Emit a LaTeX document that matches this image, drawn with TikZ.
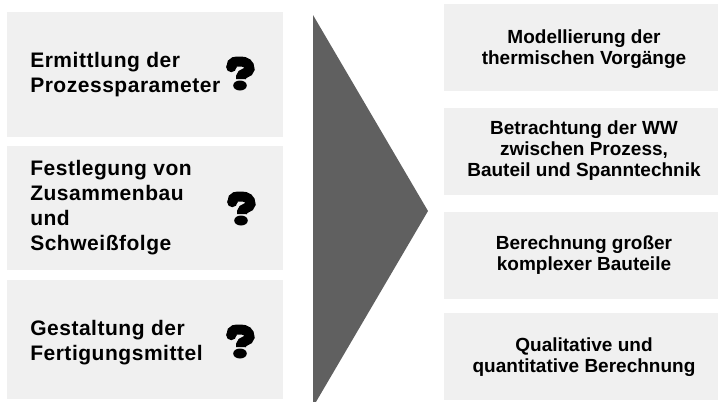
\documentclass[tikz,border=0pt]{standalone}
\usepackage{fontspec}
\setmainfont{Liberation Sans}
\newfontfamily\spacedsans[LetterSpace=2.5]{Liberation Sans}
\definecolor{panelgray}{HTML}{F0F0F0}
\definecolor{arrowgray}{HTML}{606060}
\begin{document}
\begin{tikzpicture}[x=0.75pt,y=-0.75pt,
  panel/.style={fill=panelgray, draw=none, inner sep=0pt, outer sep=0pt},
  leftpanel/.style={panel, minimum width=207pt},
  rightpanel/.style={panel, minimum width=205.5pt, minimum height=65.25pt},
  lefttext/.style={anchor=west, align=left, inner sep=0pt,
    font=\fontsize{15.75}{18.75}\spacedsans\bfseries},
  righttext/.style={align=center, inner sep=0pt,
    font=\fontsize{14.25}{15.75}\selectfont\bfseries},
  qmark/.pic={
    % heavy question mark: hook with round ball, then the dot
    \draw[line width=7.5pt, line cap=butt]
      (5.5,10) .. controls (5.5,4) and (10,4.5) .. (14.5,4.5)
      .. controls (20,4.5) and (23.5,7) .. (23.5,12)
      .. controls (23.5,16) and (15,16) .. (15,20) -- (15,22);
    \fill (5.3,10) circle[radius=5.2];
    \fill (14,28.5) ellipse[x radius=6.8, y radius=5];
  }]
\useasboundingbox (0,0) rectangle (718,401);

% left column: open questions
\node[leftpanel, minimum height=93.75pt] (l1) at (145,74.5) {};
\node[leftpanel, minimum height=93pt]    (l2) at (145,208) {};
\node[leftpanel, minimum height=89.25pt] (l3) at (145,339.5) {};

\node[lefttext] (t1) at (30,74.5) {Ermittlung der\\Prozessparameter};
\node[lefttext] (t2) at (30,208) {Festlegung von\\Zusammenbau\\und\\Schweißfolge};
\node[lefttext] (t3) at (30,343) {Gestaltung der\\Fertigungsmittel};

\pic at (226,57) {qmark};
\pic at (227,192) {qmark};
\pic at (226,325) {qmark};

% central arrow head
\begin{scope}
  \clip (0,0) rectangle (718,401);
  \fill[arrowgray] (313,15) -- (428,211) -- (313,407) -- cycle;
\end{scope}

% right column: modelling capabilities
\node[rightpanel] (r1) at (581,47.5) {};
\node[rightpanel] (r2) at (581,151.5) {};
\node[rightpanel] (r3) at (581,255.5) {};
\node[rightpanel] (r4) at (581,356.5) {};

\node[righttext] (s1) at (584,49) {Modellierung der\\thermischen Vorgänge};
\node[righttext] (s2) at (584,151) {Betrachtung der WW\\zwischen Prozess,\\Bauteil und Spanntechnik};
\node[righttext] (s3) at (584,255) {Berechnung großer\\komplexer Bauteile};
\node[righttext] (s4) at (584,357) {Qualitative und\\quantitative Berechnung};
\end{tikzpicture}
\end{document}
